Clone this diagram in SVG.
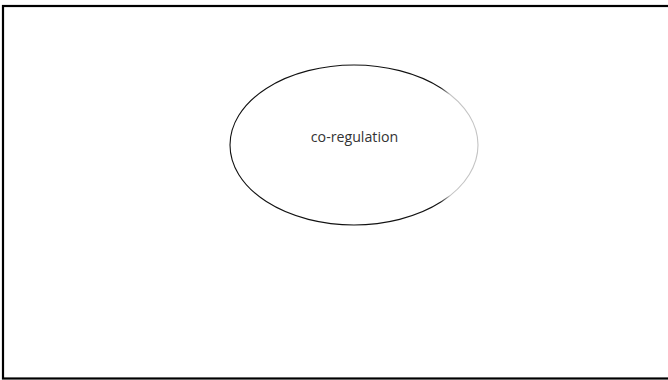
<svg xmlns="http://www.w3.org/2000/svg" width="668" height="380" viewBox="0 0 668 380">
<defs>
<linearGradient id="g" gradientUnits="userSpaceOnUse" x1="440" y1="0" x2="450" y2="0">
<stop offset="0" stop-color="#111"/>
<stop offset="1" stop-color="#c4c4c4"/>
</linearGradient>
</defs>
<style>
.lbl{font-family:"Open Sans","Liberation Sans",sans-serif;font-size:14.2px;fill:#333;text-anchor:middle}
</style>
<rect x="3" y="6" width="680" height="372.5" fill="#fff" stroke="#000" stroke-width="2.2"/>
<g id="node-coregulation">
<ellipse cx="354" cy="145" rx="124" ry="80" fill="#fff" stroke="url(#g)" stroke-width="1.1"/>
<text class="lbl" x="354.5" y="142">co-regulation</text>
</g>
<g id="connectors"/>
</svg>
